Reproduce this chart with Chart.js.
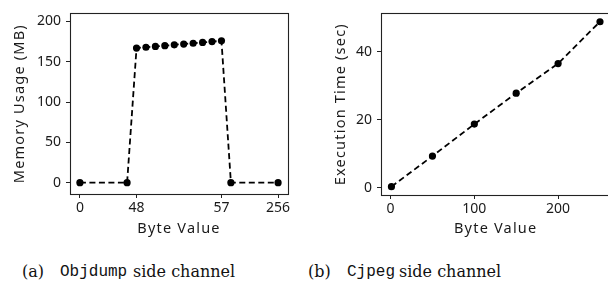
<!DOCTYPE html>
<html>
<head>
<meta charset="utf-8">
<script src="https://cdn.jsdelivr.net/npm/chart.js@4"></script>
<style>
  html, body { margin: 0; padding: 0; background: #fff; }
  #wrap { position: relative; width: 608px; height: 286px; overflow: hidden; }
  canvas { position: absolute; top: 0; }
  #c1 { left: 0; }
  #c2 { left: 304px; }
  .cap { position: absolute; top: 263px; font-size: 16px; line-height: 18px; white-space: nowrap; color: #111;
         font-family: "DejaVu Serif", "Liberation Serif", serif; }
  .tt { font-family: "Liberation Mono", "DejaVu Sans Mono", monospace; }
</style>
</head>
<body>
<div id="wrap">
  <canvas id="c1" width="304" height="240"></canvas>
  <canvas id="c2" width="310" height="240"></canvas>
  <span class="cap" style="left:22px">(a)</span>
  <span class="cap tt" style="left:60px">Objdump</span>
  <span class="cap" style="left:133px">side channel</span>
  <span class="cap" style="left:308px">(b)</span>
  <span class="cap tt" style="left:347px">Cjpeg</span>
  <span class="cap" style="left:399px">side channel</span>
</div>
<script>
// ────────────────────────────────────────────
// Data
// ────────────────────────────────────────────
// (a) objdump: plot slot on x axis, memory usage (MB)
const objSlot = [0, 5, 6, 7, 8, 9, 10, 11, 12, 13, 14, 15, 16, 21];
const objMem = [0, 0, 167, 168, 169, 170, 171, 172, 173, 174, 175, 176, 0, 0];
const objTickSlot = [0, 6, 15, 21];
const objTickLabels = ['0', '48', '57', '256'];
const objYTicks = [0, 50, 100, 150, 200];

// (b) cjpeg: byte value vs execution time (sec)
const cjByte = [1, 50, 100, 150, 200, 250];
const cjTime = [0.3, 9.3, 18.7, 27.8, 36.5, 48.8];
const cjXTicks = [0, 100, 200];
const cjYTicks = [0, 20, 40];

const TICK_FONT = { family: 'Noto Sans', size: 14 };
const TITLE_FONT = { family: 'Noto Sans', size: 14.5 };
const INK = '#1a1a1a';

// box around the plot area (all four spines)
const framePlugin = {
    id: 'frame',
    afterDraw(chart) {
        const { ctx, chartArea: a } = chart;
        ctx.save();
        ctx.strokeStyle = '#222';
        ctx.lineWidth = 1.1;
        ctx.strokeRect(Math.round(a.left) + 0.5, Math.round(a.top) + 0.5,
            Math.round(a.right - a.left), Math.round(a.bottom - a.top));
        ctx.restore();
    },
};

// axis titles in the reference are set a little wider than Noto Sans
const titleSpacing = {
    id: 'titleSpacing',
    afterUpdate(chart) {
        Object.values(chart.scales).forEach(scale => {
            if (scale._spaced) return;
            const orig = scale.drawTitle;
            scale.drawTitle = function () {
                const c = this.ctx;
                c.save();
                c.letterSpacing = '1.2px';
                orig.call(this);
                c.restore();
            };
            scale._spaced = true;
        });
    },
};

function fixedTicks(list) {
    return scale => { scale.ticks = list.map(v => ({ value: v })); };
}

function axis(opts) {
    return {
        type: 'linear',
        min: opts.min,
        max: opts.max,
        afterBuildTicks: fixedTicks(opts.ticks),
        afterFit: s => { if (opts.width) s.width = opts.width; if (opts.height) s.height = opts.height; },
        grid: { drawOnChartArea: false, drawTicks: true, tickLength: 4, tickColor: '#222', tickWidth: 1 },
        border: { display: false },
        ticks: {
            color: INK, font: TICK_FONT, padding: opts.pad, maxRotation: 0, autoSkip: false,
            callback: opts.label || (v => String(v)),
        },
        title: { display: true, text: opts.title, color: INK, font: TITLE_FONT, padding: opts.titlePad },
    };
}

function lineSet(points) {
    return {
        data: points,
        borderColor: '#000',
        backgroundColor: '#000',
        borderWidth: 1.8,
        borderDash: [6, 3.5],
        pointRadius: 3.6,
        pointHoverRadius: 3.6,
        pointBorderWidth: 0,
        tension: 0,
    };
}

function makeChart(id, points, layoutPad, xOpts, yOpts) {
    new Chart(document.getElementById(id), {
        type: 'line',
        data: { datasets: [lineSet(points)] },
        options: {
            responsive: false,
            devicePixelRatio: 1,
            animation: false,
            layout: { padding: layoutPad },
            plugins: { legend: { display: false }, tooltip: { enabled: false } },
            scales: { x: axis(xOpts), y: axis(yOpts) },
        },
        plugins: [framePlugin, titleSpacing],
    });
}

makeChart('c1',
    objSlot.map((x, i) => ({ x, y: objMem[i] })),
    { left: 11, top: 7, right: 16, bottom: 0 },
    {
        min: -1.05, max: 22.05, ticks: objTickSlot, height: 46, pad: 2,
        title: 'Byte Value', titlePad: { top: 0, bottom: 2 },
        label: v => objTickLabels[objTickSlot.indexOf(v)],
    },
    {
        min: -14, max: 210, ticks: objYTicks, width: 59, pad: 5,
        title: 'Memory Usage (MB)', titlePad: { top: 0, bottom: 0 },
    });

makeChart('c2',
    cjByte.map((x, i) => ({ x, y: cjTime[i] })),
    { left: 28, top: 9, right: 3, bottom: 0 },
    {
        min: -11.45, max: 262.45, ticks: cjXTicks, height: 45, pad: 2,
        title: 'Byte Value', titlePad: { top: 0, bottom: 2 },
    },
    {
        min: -2.15, max: 51.25, ticks: cjYTicks, width: 49, pad: 5,
        title: 'Execution Time (sec)', titlePad: { top: 0, bottom: 0 },
    });
</script>
</body>
</html>
